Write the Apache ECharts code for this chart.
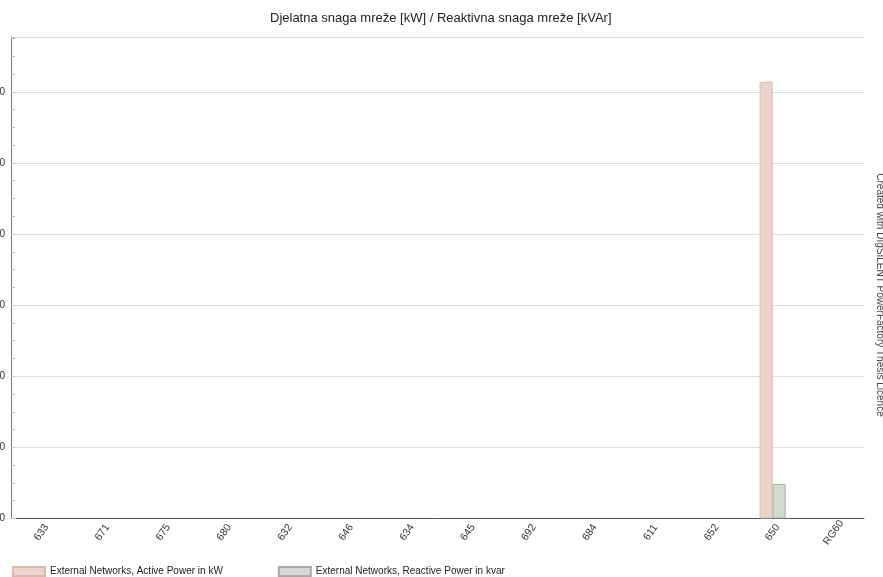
<!DOCTYPE html>
<html>
<head>
<meta charset="utf-8">
<script src="https://cdn.jsdelivr.net/npm/echarts@6/dist/echarts.min.js"></script>
<style>html,body{margin:0;padding:0;background:#fff;}#c{width:883px;height:577px;}</style>
</head>
<body>
<div id="c"></div>
<script>
const categories = ['633','671','675','680','632','646','634','645','692','684','611','652','650','RG60'];
const activePower = [0,0,0,0,0,0,0,0,0,0,0,0,3070,0];
const reactivePower = [0,0,0,0,0,0,0,0,0,0,0,0,243,0];
const seriesNames = ['External Networks, Active Power in kW','External Networks, Reactive Power in kvar'];
const titleText = 'Djelatna snaga mreže [kW] / Reaktivna snaga mreže [kVAr]';
const watermark = 'Created with DIgSILENT PowerFactory Thesis Licence';

// zero-height bars are not drawn in the reference
const hideZero = arr => arr.map(v => v === 0 ? null : v);

const chart = echarts.init(document.getElementById('c'), null, {renderer:'canvas'});
chart.setOption({
  animation:false,
  backgroundColor:'#fff',
  title:{text:titleText,left:265,top:7,textStyle:{fontFamily:'Liberation Sans, Arial',fontSize:13,fontWeight:'normal',color:'#222'}},
  grid:{left:11,right:19,top:37,bottom:58.5,containLabel:false,outerBoundsMode:'none'},
  legend:{left:12,top:566,padding:0,itemWidth:32,itemHeight:9,itemGap:55,icon:'rect',
    textStyle:{fontFamily:'Liberation Sans, Arial',fontSize:10,color:'#222'},
    data:seriesNames},
  xAxis:{type:'category',data:categories,
    axisLine:{lineStyle:{color:'#555',width:1}},
    axisTick:{show:false},
    axisLabel:{rotate:55,align:'center',verticalAlign:'middle',fontFamily:'Liberation Sans, Arial',fontSize:10.5,color:'#333',margin:14}},
  yAxis:{type:'value',min:0,max:3385,interval:500,
    axisLine:{show:true,lineStyle:{color:'#777',width:1}},
    axisTick:{show:true,inside:true,length:5,lineStyle:{color:'#ccc'}},
    minorTick:{show:true,splitNumber:4,length:4,lineStyle:{color:'#bbb'}},
    splitLine:{lineStyle:{color:'#ddd',width:1}},
    axisLabel:{fontFamily:'Liberation Sans, Arial',fontSize:10,color:'#333',margin:6,showMaxLabel:false}},
  series:[
    {name:seriesNames[0],type:'bar',data:hideZero(activePower),barWidth:13,barGap:'0%',
      itemStyle:{color:'#ecd5c8',borderColor:'#d6baac',borderWidth:1}},
    {name:seriesNames[1],type:'bar',data:hideZero(reactivePower),barWidth:13,barGap:'0%',
      itemStyle:{color:'#d5d9d3',borderColor:'#a7aba5',borderWidth:1}}
  ],
  graphic:[{type:'text',x:880,y:295,rotation:-Math.PI/2,
    style:{text:watermark,fontFamily:'Liberation Sans, Arial',fontSize:10,fill:'#444',align:'center',verticalAlign:'middle'}}]
});
</script>
</body>
</html>
